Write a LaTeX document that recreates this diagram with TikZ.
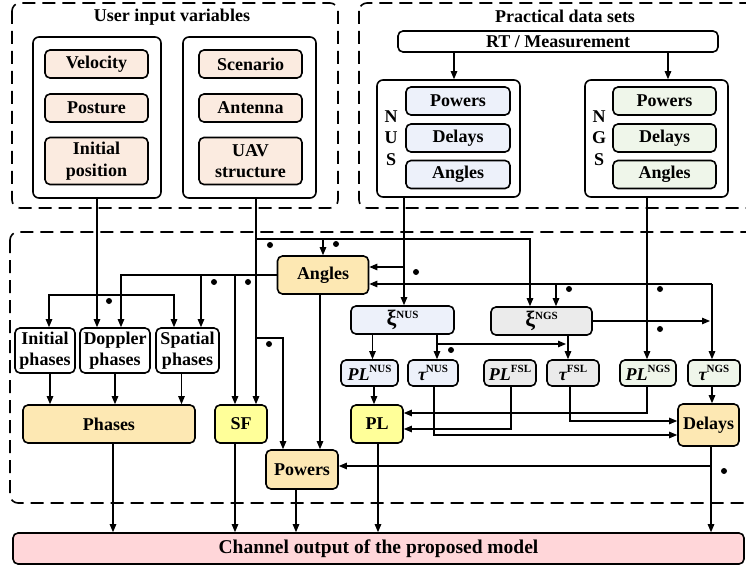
\documentclass[tikz,border=0pt]{standalone}
\usepackage{fontspec}
\setmainfont{Liberation Serif}
\usetikzlibrary{arrows.meta}

\definecolor{inpink}{HTML}{FBEBE0}
\definecolor{nusblue}{HTML}{EDF1FA}
\definecolor{ngsgreen}{HTML}{EFF6EA}
\definecolor{fslgray}{HTML}{EBEBEB}
\definecolor{outorange}{HTML}{FDE8B3}
\definecolor{outyellow}{HTML}{FFFF99}
\definecolor{chanpink}{HTML}{FFD6D9}

\newcommand{\upidx}[1]{\raisebox{0.42em}{\fontsize{11}{11}\selectfont #1}}
\newcommand{\bigxi}{{\fontsize{22}{22}\selectfont ξ}}

\begin{document}
\begin{tikzpicture}[x=1pt,y=-1pt,
  font=\fontsize{18}{21.5}\selectfont\bfseries,
  vbox/.style={draw,line width=1.6pt,rounded corners=5pt,inner sep=0pt,align=center},
  cell/.style 2 args={vbox,minimum width=#1,minimum height=#2},
  grpbox/.style 2 args={draw,line width=1.6pt,rounded corners=6pt,minimum width=#1,minimum height=#2},
  dashframe/.style={draw,line width=1.6pt,dash pattern=on 13pt off 7pt,rounded corners=8pt},
  conn/.style={line width=1.1pt},
  arr/.style={conn,-{Triangle[length=8pt,width=6.5pt]}},
  jdot/.style={circle,fill,inner sep=0pt,minimum size=6pt}]
\useasboundingbox (0,0) rectangle (746,569);

\draw[dashframe] (12,3) rectangle (338,208);
\draw[dashframe] (359,3) rectangle (770,208);
\draw[dashframe] (10,232) rectangle (770,503);

\node (uivt) at (172,17) {User input variables};
\node (pdst) at (565,16) {Practical data sets};

\node[grpbox={128pt}{161pt}] (ugl) at (97,117.5) {};
\node[grpbox={133pt}{161pt}] (ugr) at (249.5,117.5) {};
\node[cell={103pt}{28pt},fill=inpink] (vel) at (96.5,64) {Velocity};
\node[cell={103pt}{28pt},fill=inpink] (pos) at (96.5,108) {Posture};
\node[cell={103pt}{47pt},fill=inpink] (inp) at (96.5,161) {Initial\\position};
\node[cell={103pt}{28pt},fill=inpink] (scn) at (250.5,64) {Scenario};
\node[cell={103pt}{28pt},fill=inpink] (ant) at (250.5,108) {Antenna};
\node[cell={103pt}{47pt},fill=inpink] (uav) at (250.5,161) {UAV\\structure};

\node[cell={320pt}{21pt}] (rtm) at (558,41.5) {RT / Measurement};
\node[grpbox={143pt}{117pt}] (nusg) at (448.5,138.5) {};
\node[grpbox={143pt}{117pt}] (ngsg) at (656.5,138.5) {};
\node[align=center] (nusl) at (391,138) {N\\U\\S};
\node[align=center] (ngsl) at (599,138) {N\\G\\S};
\node[cell={104pt}{28pt},fill=nusblue] (nusp) at (458,101) {Powers};
\node[cell={104pt}{28pt},fill=nusblue] (nusd) at (458,138) {Delays};
\node[cell={104pt}{28pt},fill=nusblue] (nusa) at (458,174.5) {Angles};
\node[cell={103pt}{28pt},fill=ngsgreen] (ngsp) at (664.5,101) {Powers};
\node[cell={103pt}{28pt},fill=ngsgreen] (ngsd) at (664.5,138) {Delays};
\node[cell={103pt}{28pt},fill=ngsgreen] (ngsa) at (664.5,174.5) {Angles};

\node[cell={91pt}{38pt},fill=outorange] (ang) at (323,275) {Angles};
\node[cell={60pt}{45pt}] (iph) at (45,350.5) {Initial\\phases};
\node[cell={70pt}{45pt}] (dph) at (115,350.5) {Doppler\\phases};
\node[cell={63pt}{45pt}] (sph) at (187.5,350.5) {Spatial\\phases};
\node[cell={172pt}{38pt},fill=outorange] (phs) at (109,424) {Phases};
\node[cell={52pt}{38pt},fill=outyellow] (sf) at (241,424) {SF};
\node[cell={72pt}{39pt},fill=outorange] (pow) at (302,469.5) {Powers};
\node[cell={103pt}{28pt},fill=nusblue] (xnus) at (402.5,320) {\bigxi\upidx{NUS}};
\node[cell={101pt}{28pt},fill=fslgray] (xngs) at (541.5,321) {\bigxi\upidx{NGS}};
\node[cell={57pt}{26pt},fill=nusblue] (plnus) at (369.5,373) {{\itshape PL}\upidx{NUS}};
\node[cell={50pt}{26pt},fill=nusblue] (tnus) at (433,373) {{\itshape τ}\upidx{NUS}};
\node[cell={52pt}{26pt},fill=fslgray] (plfsl) at (510,373) {{\itshape PL}\upidx{FSL}};
\node[cell={52pt}{26pt},fill=fslgray] (tfsl) at (573,373) {{\itshape τ}\upidx{FSL}};
\node[cell={56pt}{26pt},fill=ngsgreen] (plngs) at (648,373) {{\itshape PL}\upidx{NGS}};
\node[cell={52pt}{26pt},fill=ngsgreen] (tngs) at (714,373) {{\itshape τ}\upidx{NGS}};
\node[cell={52pt}{38pt},fill=outyellow] (pl) at (377,424) {PL};
\node[cell={61pt}{42pt},fill=outorange] (dly) at (708.5,425) {Delays};
\node[cell={731pt}{31pt},fill=chanpink,font=\fontsize{19.5}{22}\selectfont\bfseries] (chan) at (378.5,548.5) {Channel output of the proposed model};

% data sets
\draw[arr] ([xshift=-104pt]rtm.south) -- ([xshift=-104pt]rtm.south |- nusg.north);
\draw[arr] ([xshift=110pt]rtm.south) -- ([xshift=110pt]rtm.south |- ngsg.north);

% user inputs
\coordinate (b1) at (97,295);
\draw[arr] (ugl.south) -- (ugl.south |- dph.north);
\draw[arr] (b1) -| ([xshift=4pt]iph.north);
\draw[arr] (b1) -| ([xshift=-13.5pt]sph.north);
\coordinate (u2) at ([xshift=6.5pt]ugr.south);
\coordinate (b2) at (256,239);
\coordinate (b3) at (256,338);
\draw[arr] (u2) -- (u2 |- sf.north);
\draw[arr] (b2) -| ([xshift=-11.5pt]xngs.north);
\draw[arr] (b2 -| ang.north) -- (ang.north);
\draw[arr] (b3) -| ([xshift=-19pt]pow.north);

% angles
\coordinate (b4) at (121,275);
\coordinate (b5) at (201,275);
\coordinate (b6) at (235,275);
\draw[arr] (ang.west) -- (b4) -- (b4 |- dph.north);
\draw[arr] (b5) -- (b5 |- sph.north);
\draw[arr] (b6) -- (b6 |- sf.north);
\draw[arr] ([xshift=-3pt]ang.south) -- ([xshift=-3pt]ang.south |- pow.north);

% NUS and NGS
\coordinate (n1) at (404,197);
\coordinate (b7) at (404,267);
\draw[arr] (n1) -- (n1 |- xnus.north);
\draw[arr] (b7) -- (b7 -| ang.east);
\coordinate (g1) at (647,197);
\draw[arr] (g1) -- (g1 |- plngs.north);
\coordinate (b8) at (712,284);
\coordinate (b9) at (556,284);
\draw[arr] (b8) -- (b8 -| ang.east);
\draw[arr] (b8) -- (b8 |- tngs.north);
\draw[arr] (b9) -- (b9 |- xngs.north);
\draw[arr] (xngs.east) -- ([xshift=-2pt]xngs.east -| b8);

% xi outputs
\coordinate (b10) at (437,344);
\coordinate (g2) at (568,335);
\draw[arr] ([xshift=-30pt]xnus.south) -- ([xshift=-30pt]xnus.south |- plnus.north);
\draw[arr] (b10 |- xnus.south) -- (b10 |- tnus.north);
\draw[arr] (b10) -- ([xshift=-2pt]b10 -| g2);
\draw[arr] (g2) -- (g2 |- tfsl.north);

% to PL and Delays
\draw[arr] ([xshift=4.5pt]plnus.south) -- ([xshift=4.5pt]plnus.south |- pl.north);
\coordinate (c1) at (434,435);
\coordinate (c2) at (511,429);
\coordinate (c3) at (570,421);
\coordinate (c4) at (647,413);
\draw[arr] (c1 |- tnus.south) -- (c1) -- (c1 -| dly.west);
\draw[arr] (c2 |- plfsl.south) -- (c2) -- (c2 -| pl.east);
\draw[arr] (c3 |- tfsl.south) -- (c3) -- (c3 -| dly.west);
\draw[arr] (c4 |- plngs.south) -- (c4) -- (c4 -| pl.east);
\draw[arr] ([xshift=-2pt]tngs.south) -- ([xshift=-2pt]tngs.south |- dly.north);

% phases
\draw[arr] ([xshift=5pt]iph.south) -- ([xshift=5pt]iph.south |- phs.north);
\draw[arr] (dph.south) -- (dph.south |- phs.north);
\draw[arr] ([xshift=-6pt]sph.south) -- ([xshift=-6pt]sph.south |- phs.north);

% outputs
\coordinate (c5) at (711,466);
\draw[arr] ([xshift=4pt]phs.south) -- ([xshift=4pt]phs.south |- chan.north);
\draw[arr] ([xshift=-6pt]sf.south) -- ([xshift=-6pt]sf.south |- chan.north);
\draw[arr] ([xshift=-6pt]pow.south) -- ([xshift=-6pt]pow.south |- chan.north);
\draw[arr] ([xshift=1pt]pl.south) -- ([xshift=1pt]pl.south |- chan.north);
\draw[arr] ([xshift=2.5pt]dly.south) -- ([xshift=2.5pt]dly.south |- chan.north);
\draw[arr] (c5) -- (c5 -| pow.east);

\node[jdot] (d1) at (270,245) {};
\node[jdot] (d2) at (336,244) {};
\node[jdot] (d3) at (214,282) {};
\node[jdot] (d4) at (248,282) {};
\node[jdot] (d5) at (109,301) {};
\node[jdot] (d6) at (269,344) {};
\node[jdot] (d7) at (416,272) {};
\node[jdot] (d8) at (569,289) {};
\node[jdot] (d9) at (660,289) {};
\node[jdot] (d10) at (660,329) {};
\node[jdot] (d11) at (451,350) {};
\node[jdot] (d12) at (724,471) {};
\end{tikzpicture}
\end{document}
